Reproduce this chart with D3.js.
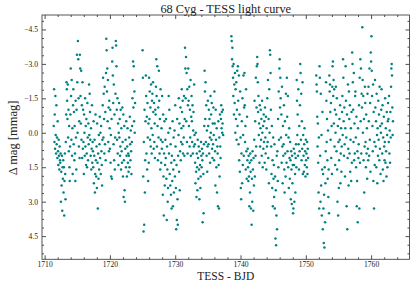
<!DOCTYPE html>
<html><head><meta charset="utf-8">
<script src="https://cdn.jsdelivr.net/npm/d3@7"></script>
<style>body{margin:0;background:#fff} svg{display:block}</style>
</head><body><svg id="c" width="415" height="288"></svg>
<script>
const title = "68 Cyg - TESS light curve";
const xLabel = "TESS - BJD";
const yLabel = "Δ mag [mmag]";
const xTicks = [1710, 1720, 1730, 1740, 1750, 1760];
const yTicks = [-4.5, -3.0, -1.5, 0.0, 1.5, 3.0, 4.5];
const cadence = 0.05; // days between samples
const segStarts = [1711.40, 1725.00, 1738.60, 1751.60];
const seg1 = [
-0.3,-1.9,0.4,-0.8,0.7,-1.6,0.1,0.9,-1.2,0.5,
0.2,1.1,-0.5,0.8,1.4,0.3,1.0,1.6,0.6,1.2,
1.3,0.9,3.0,1.7,2.3,1.0,3.4,1.5,2.0,1.2,
2.6,1.5,3.6,2.1,0.9,1.8,2.9,0.4,-0.8,-2.2,
-1.9,-1.4,-0.6,-2.1,0.2,-1.0,0.8,-0.3,1.5,2.1,
0.6,-0.8,-2.8,-1.6,0.3,-2.3,1.0,-0.2,1.8,-1.2,
-1.9,0.5,-0.9,1.2,-0.3,0.9,2.1,-1.4,0.2,1.6,
-1.0,-3.4,-2.2,0.0,-4.0,-3.2,-1.5,0.6,-0.5,1.1,
-3.4,-2.8,-1.6,-0.4,-2.7,0.3,-1.2,1.1,-2.2,0.7,
-1.0,0.4,1.8,-0.8,0.0,1.0,-1.5,0.6,-0.3,1.4,
-0.6,0.9,1.5,-1.3,0.2,1.2,-0.4,0.5,-2.1,0.1,
-1.7,-0.9,0.3,1.0,-0.2,1.6,0.7,-1.2,1.3,0.4,
0.8,1.5,-0.5,2.2,1.0,0.3,2.6,1.8,-0.8,1.2,
1.9,0.6,2.4,-0.4,1.3,3.3,0.9,2.0,0.1,1.6,
0.5,-0.7,1.1,0.0,1.8,-0.3,0.8,1.4,2.3,0.3,
-1.2,-2.4,0.2,-1.7,-0.6,0.9,-2.0,0.5,-0.9,1.2,
-2.6,-4.1,-3.6,-1.8,-2.8,-0.5,-2.3,0.4,-1.1,0.8,
-1.4,-0.2,0.7,-1.0,1.3,0.1,1.9,-0.6,2.0,-3.1,
-3.7,-2.5,-1.3,0.5,-2.1,1.2,-0.8,1.6,0.2,-1.7,
-4.0,-3.8,-2.9,-1.0,0.3,-1.5,0.9,-0.4,1.4,0.0,
-1.3,0.2,-0.6,1.0,0.6,-1.0,1.6,-0.2,0.8,1.3,
-1.1,0.4,1.9,-0.8,2.8,1.2,-0.3,2.5,3.0,0.7,
0.3,1.5,-0.5,1.0,1.9,0.6,-0.2,1.3,0.9,1.7,
1.0,0.2,1.5,-0.7,0.5,1.2,-0.1,0.8,1.8,0.4,
-0.3,-1.5,-2.3,-3.1,-1.1,-2.9,-0.5,-1.8,0.0,-1.3
];
const seg2 = [
-3.6,-2.4,1.9,4.3,0.4,4.0,-1.0,2.6,1.2,-0.5,
-2.5,-1.6,0.9,-0.7,1.6,-1.3,0.2,2.1,-0.4,1.3,
-2.4,-0.6,-1.8,0.3,-1.1,0.6,-2.1,-0.2,0.9,-1.4,
-1.7,0.1,-2.2,-0.9,0.7,-1.3,0.4,-0.4,1.1,-1.0,
-0.8,-2.0,-3.2,-1.6,0.6,-2.9,-0.3,1.2,-1.1,0.2,
-2.7,-1.4,0.9,-0.6,1.6,-1.9,0.3,1.3,-0.2,0.7,
-1.6,0.4,2.7,-0.8,1.9,3.6,0.9,-0.5,2.3,1.4,
0.3,1.1,-0.6,2.0,3.8,0.6,1.6,3.0,2.4,0.0,
-1.6,0.9,-1.0,1.8,-0.2,2.3,0.5,2.7,1.3,3.3,
1.0,2.1,-0.5,3.2,1.6,0.2,2.6,1.2,-0.1,1.9,
-1.2,0.6,2.4,4.2,1.4,3.8,-0.6,2.9,4.0,1.0,
0.1,-1.5,1.7,-0.4,2.5,0.8,-1.1,1.2,0.4,-0.2,
-1.9,-0.9,0.5,-1.4,0.9,-0.3,0.2,-1.6,1.0,-0.6,
-3.7,-2.8,-1.5,-3.3,-0.5,-2.6,0.4,-1.9,0.9,-1.2,
-2.8,-1.4,-0.3,-2.0,0.6,-1.0,0.2,-2.3,1.0,-0.7,
-1.6,-0.5,0.4,-1.2,0.9,-0.1,-0.9,0.6,-2.1,0.1,
0.5,1.3,2.2,0.0,1.7,2.8,0.9,1.5,2.5,0.3,
1.1,2.0,0.6,1.6,2.9,0.8,1.4,2.4,1.9,0.4,
1.0,1.5,0.7,1.2,3.9,0.9,1.8,3.5,0.5,-0.3,
-2.7,-1.8,-0.6,-2.2,0.4,-1.2,1.0,-0.1,1.7,0.6,
-1.4,-0.3,0.5,-1.0,0.9,-0.6,0.2,1.3,-1.6,0.0,
-0.8,0.3,-1.3,0.7,1.1,-0.4,0.5,-1.1,0.1,1.2,
-1.8,-0.4,0.8,2.3,-1.0,0.3,1.5,-0.2,2.6,0.6,
0.9,3.2,-0.5,1.4,3.3,0.2,1.9,-0.8,0.6,1.1,
-0.6,-1.2,-0.2,-0.9,0.0,-0.4,-1.0,0.1
];
const seg3 = [
-4.2,-4.0,-3.2,-3.7,-2.9,-2.4,-1.6,-3.0,-0.8,-2.1,
-1.3,-2.6,0.0,-1.9,-0.6,-2.2,0.3,-1.0,-2.7,-0.3,
-2.9,-1.4,0.5,-2.5,1.2,-0.8,1.7,-1.8,0.2,2.4,
2.9,0.9,-0.5,2.2,-1.5,1.4,0.1,-2.5,1.0,-1.1,
-2.6,-1.2,0.4,-0.3,1.6,-1.9,0.8,2.0,-0.7,1.2,
0.7,1.5,2.1,1.0,1.9,3.2,1.3,2.6,0.9,1.7,
3.3,1.2,4.0,2.0,3.0,0.8,1.6,3.4,1.1,2.3,
0.3,-1.4,1.9,-0.5,1.0,-2.4,0.6,-1.1,-2.9,-3.3,
-3.0,-2.2,-0.9,-1.6,0.1,-0.4,1.3,-1.2,0.6,-0.2,
-1.0,0.3,-0.6,1.0,-1.4,0.0,1.5,-0.3,0.7,-0.8,
0.4,-0.5,1.3,-1.1,0.2,0.9,-0.7,1.6,-0.2,0.6,
-1.5,0.4,-2.3,1.1,-0.6,2.2,-1.9,0.0,-3.6,-3.4,
-2.6,-1.0,0.6,1.8,-0.3,2.4,1.2,3.2,0.2,2.0,
1.4,2.8,0.5,3.3,1.9,4.6,2.5,4.9,3.6,1.0,
4.2,0.8,2.1,-0.6,1.5,-1.8,0.3,-2.8,-3.2,-1.1,
-2.4,-1.5,0.2,-0.8,1.3,-2.0,0.6,2.2,-0.3,1.0,
0.5,-1.2,1.6,2.6,-0.5,0.9,1.9,-1.7,0.1,1.3,
-2.4,-0.7,0.8,-1.6,1.5,0.2,2.4,-0.2,1.1,2.0,
0.4,1.2,2.9,0.8,1.6,3.1,1.0,2.2,1.4,3.5,
3.3,0.7,1.4,3.0,0.9,1.8,2.6,1.1,0.5,1.5,
-2.3,-1.4,0.1,-0.8,1.0,-1.9,0.5,1.6,-0.3,0.8,
-1.2,-3.0,-2.6,0.3,-1.7,1.2,-0.5,0.7,-2.2,1.8,
0.1,1.0,1.7,0.5,-0.2,1.4,0.8,1.9,0.3,1.2,
0.9,1.5,0.4,1.8,0.7,1.1
];
const seg4 = [
-2.5,-2.1,-1.8,-0.7,0.6,-0.4,1.3,2.6,0.2,3.3,
-2.9,-2.4,1.0,3.0,-1.7,2.3,0.1,3.6,1.6,-0.9,
4.2,1.8,3.3,4.8,2.7,5.0,1.5,3.9,2.2,0.8,
-2.2,-1.4,0.4,-0.6,1.2,2.0,-0.1,2.8,1.6,3.5,
-2.5,-1.8,-2.1,-0.9,0.3,-1.3,1.1,-0.3,1.8,-2.0,
-2.9,-3.1,-1.6,-2.3,-0.4,-1.9,0.6,-1.0,1.4,0.0,
-2.0,-0.8,0.8,-1.5,1.6,3.0,-0.3,3.6,0.4,2.4,
1.2,-0.6,0.3,-1.2,2.2,0.9,-0.2,1.7,0.6,-0.9,
-1.6,0.1,-3.2,-2.4,-0.5,1.0,-1.1,0.5,1.9,-0.2,
-2.9,-1.4,0.2,3.2,-0.8,4.2,1.1,-2.1,0.7,2.3,
-1.8,-0.6,0.9,-1.2,1.7,0.3,-0.2,2.1,-0.9,1.3,
-3.5,-3.0,-2.2,-1.0,0.4,-2.6,1.2,-0.4,0.9,-1.6,
-1.8,0.2,1.5,-0.7,3.2,2.1,0.8,3.9,-0.2,1.1,
0.5,-1.2,3.3,-2.4,1.3,-3.2,-0.5,-2.8,0.9,-1.7,
-1.1,-4.6,-2.3,0.0,-1.6,1.2,-0.6,2.6,0.6,-2.0,
-1.3,0.4,1.5,-0.8,0.9,-0.2,2.0,-1.7,0.7,1.2,
-2.0,-0.5,1.0,-2.8,0.3,-1.3,1.7,-3.5,-3.1,-4.2,
-2.7,-1.6,-0.3,0.8,-2.1,2.1,-0.9,3.3,0.4,1.4,
-2.3,-1.1,0.6,-0.5,1.5,-1.7,0.1,2.2,-0.2,1.0,
-1.4,0.3,-0.8,1.2,-2.0,0.7,-0.3,1.8,0.0,-1.0,
-1.9,-0.4,0.9,-1.2,1.6,0.2,2.1,-0.7,0.6,1.2,
0.4,-1.5,1.3,-0.2,0.8,1.9,-0.9,0.1,1.5,-0.5,
-1.3,-0.6,0.4,-1.6,0.9,-0.1,1.3,-0.9,0.2,-2.0,
-2.8,-3.0,-2.5,-1.1,0.1,-0.5
];

const m = {left: 42, right: 409.5, top: 15, bottom: 259.3};
const svg = d3.select("#c");
const serif = "'Liberation Serif','DejaVu Serif',serif";

const x = d3.scaleLinear().domain([1709.6, 1765.88]).range([m.left, m.right]);
const y = d3.scaleLinear().domain([-5.13, 5.51]).range([m.top, m.bottom]);

const points = [seg1, seg2, seg3, seg4].flatMap((seg, k) =>
  seg.map((v, i) => ({t: segStarts[k] + i * cadence, v})));

svg.append("g").selectAll("circle").data(points).join("circle")
  .attr("cx", d => x(d.t)).attr("cy", d => y(d.v)).attr("r", 1.25)
  .attr("fill", "#008080");

const fmtY = d3.format(".1f");
const xMinor = d3.range(1710, 1766, 2).filter(v => !xTicks.includes(v));
const yMinor = d3.range(-5.25, 5.6, 0.375).filter(v => v > -5.13 && v < 5.51 && !yTicks.some(t => Math.abs(t - v) < 1e-6));

function styleAxis(g) {
  g.select(".domain").remove();
  g.selectAll("line").attr("stroke", "#222").attr("stroke-width", 0.8);
  g.selectAll("text").attr("font-family", serif).attr("font-size", 7.6).attr("fill", "#222");
}
// bottom
svg.append("g").attr("transform", `translate(0,${m.bottom})`)
  .call(d3.axisBottom(x).tickValues(xTicks).tickSize(-4).tickPadding(2.5).tickFormat(d3.format("d"))).call(styleAxis);
svg.append("g").attr("transform", `translate(0,${m.bottom})`)
  .call(d3.axisBottom(x).tickValues(xMinor).tickSize(-2).tickFormat("")).call(styleAxis);
// top
svg.append("g").attr("transform", `translate(0,${m.top})`)
  .call(d3.axisTop(x).tickValues(xTicks).tickSize(-4).tickFormat("")).call(styleAxis);
svg.append("g").attr("transform", `translate(0,${m.top})`)
  .call(d3.axisTop(x).tickValues(xMinor).tickSize(-2).tickFormat("")).call(styleAxis);
// left
svg.append("g").attr("transform", `translate(${m.left},0)`)
  .call(d3.axisLeft(y).tickValues(yTicks).tickSize(-4).tickPadding(4).tickFormat(fmtY)).call(styleAxis);
svg.append("g").attr("transform", `translate(${m.left},0)`)
  .call(d3.axisLeft(y).tickValues(yMinor).tickSize(-2).tickFormat("")).call(styleAxis);
// right
svg.append("g").attr("transform", `translate(${m.right},0)`)
  .call(d3.axisRight(y).tickValues(yTicks).tickSize(-4).tickFormat("")).call(styleAxis);
svg.append("g").attr("transform", `translate(${m.right},0)`)
  .call(d3.axisRight(y).tickValues(yMinor).tickSize(-2).tickFormat("")).call(styleAxis);

svg.append("rect").attr("x", m.left).attr("y", m.top)
  .attr("width", m.right - m.left).attr("height", m.bottom - m.top)
  .attr("fill", "none").attr("stroke", "#444").attr("stroke-width", 0.9);

svg.append("text").attr("x", (m.left + m.right) / 2).attr("y", 12.5)
  .attr("text-anchor", "middle").attr("font-family", serif).attr("font-size", 12.3)
  .attr("fill", "#222").text(title);
svg.append("text").attr("x", (m.left + m.right) / 2).attr("y", 279.5)
  .attr("text-anchor", "middle").attr("font-family", serif).attr("font-size", 11.5)
  .attr("fill", "#222").text(xLabel);
svg.append("text").attr("transform", `translate(16.5,138) rotate(-90)`)
  .attr("text-anchor", "middle").attr("font-family", serif).attr("font-size", 12.5)
  .attr("fill", "#222").text(yLabel);
</script></body></html>
